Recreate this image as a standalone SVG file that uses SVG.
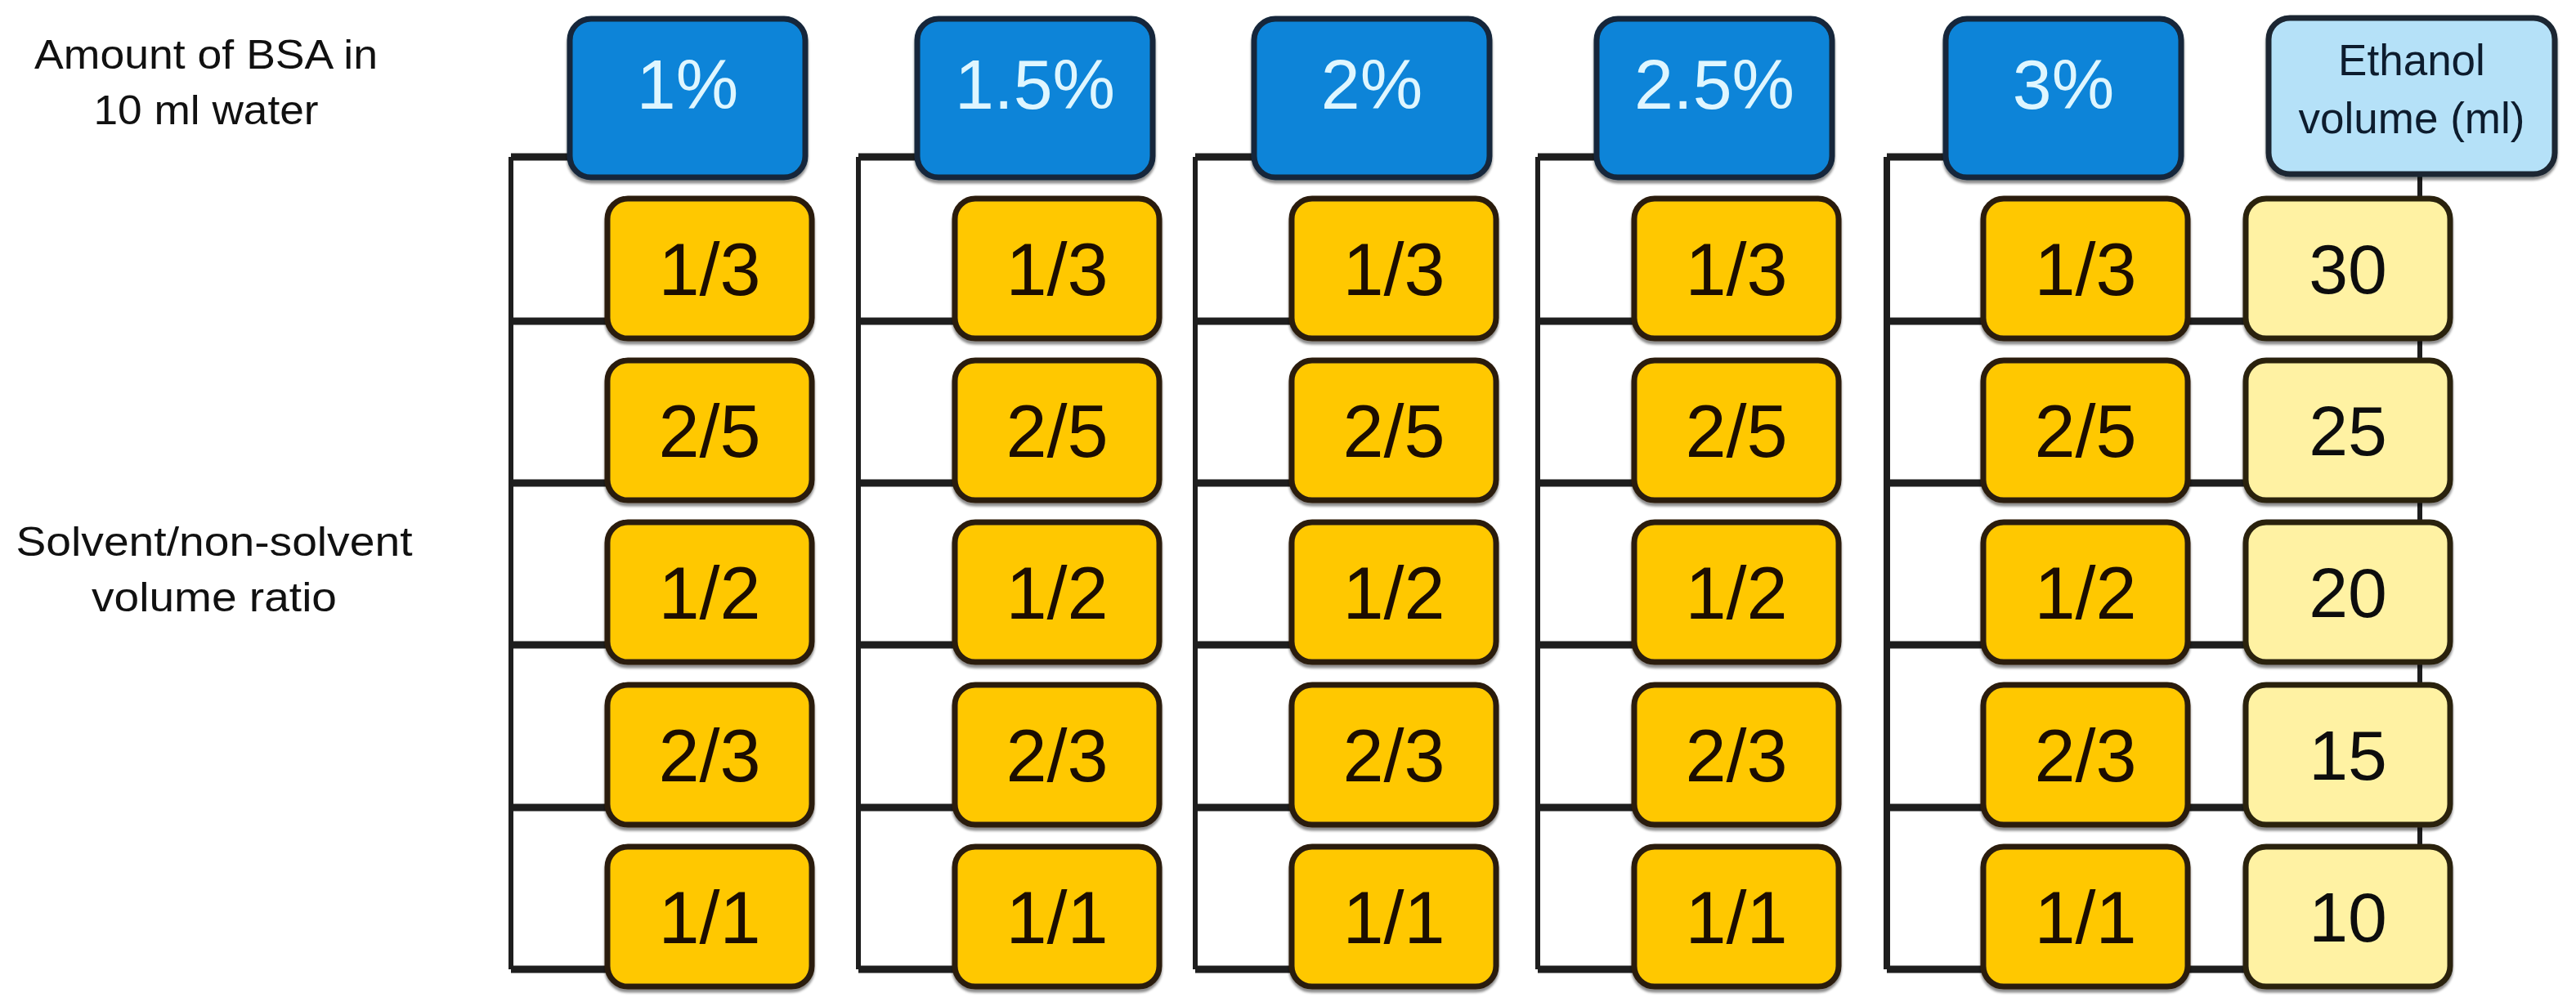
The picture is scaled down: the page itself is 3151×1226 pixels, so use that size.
<svg xmlns="http://www.w3.org/2000/svg" width="3151" height="1226" viewBox="0 0 3151 1226">
<defs>
<filter id="sh" x="-10%" y="-10%" width="120%" height="125%"><feDropShadow dx="0" dy="4" stdDeviation="1.5" flood-color="#000" flood-opacity="0.45"/></filter>
</defs>
<style>
text{font-family:"Liberation Sans",Arial,sans-serif;text-anchor:middle}
.lbl{font-size:50px;fill:#111}
.b rect{fill:#0884d8;stroke:#14283a;stroke-width:7}
.b text{font-size:86px;fill:#dff6ff}
.o rect{fill:#ffc805;stroke:#2b1c0c;stroke-width:7}
.o text{font-size:90px;fill:#1a0f05}
.y rect{fill:#fff2a3;stroke:#2a2410;stroke-width:7}
.y text{font-size:86px;fill:#111}
.e rect{fill:#b5e1f8;stroke:#1b2833;stroke-width:7}
.e text{font-size:53px;fill:#0f1f2e}
.node{filter:url(#sh)}
.v{stroke:#1e1e1e;stroke-width:6;fill:none}
.v5{stroke:#1e1e1e;stroke-width:8;fill:none}
.h{stroke:#1e1e1e;stroke-width:9;fill:none}
</style>
<rect width="3151" height="1226" fill="#fff"/>
<g id="labels">
<text class="lbl" x="252" y="84" textLength="420" lengthAdjust="spacingAndGlyphs">Amount of BSA in</text>
<text class="lbl" x="252" y="152" textLength="275" lengthAdjust="spacingAndGlyphs">10 ml water</text>
<text class="lbl" x="262" y="680" textLength="485" lengthAdjust="spacingAndGlyphs">Solvent/non-solvent</text>
<text class="lbl" x="262" y="748" textLength="300" lengthAdjust="spacingAndGlyphs">volume ratio</text>
</g>
<g id="connectors">
<path class="v" d="M625 192V1186M1050 192V1186M1462 192V1186M1881 192V1186"/>
<path class="v5" d="M2308 192V1186"/>
<path class="h" d="M625 192H697M625 393H743M625 591H743M625 789H743M625 988H743M625 1186H743"/>
<path class="h" d="M1050 192H1122M1050 393H1168M1050 591H1168M1050 789H1168M1050 988H1168M1050 1186H1168"/>
<path class="h" d="M1462 192H1534M1462 393H1580M1462 591H1580M1462 789H1580M1462 988H1580M1462 1186H1580"/>
<path class="h" d="M1881 192H1953M1881 393H1999M1881 591H1999M1881 789H1999M1881 988H1999M1881 1186H1999"/>
<path class="h" d="M2308 192H2380M2308 393H2747M2308 591H2747M2308 789H2747M2308 988H2747M2308 1186H2747"/>
<path class="v" d="M2960 213V243M2960 414V441M2960 612V639M2960 810V838M2960 1009V1036"/>
</g>
<g id="bsa-1" class="node b"><rect x="697" y="23" width="288" height="194" rx="26"/><text x="841" y="133">1%</text></g>
<g id="bsa-1-5" class="node b"><rect x="1122" y="23" width="288" height="194" rx="26"/><text x="1266" y="133">1.5%</text></g>
<g id="bsa-2" class="node b"><rect x="1534" y="23" width="288" height="194" rx="26"/><text x="1678" y="133">2%</text></g>
<g id="bsa-2-5" class="node b"><rect x="1953" y="23" width="288" height="194" rx="26"/><text x="2097" y="133">2.5%</text></g>
<g id="bsa-3" class="node b"><rect x="2380" y="23" width="288" height="194" rx="26"/><text x="2524" y="133">3%</text></g>
<g id="ethanol" class="node e"><rect x="2775" y="22" width="350" height="191" rx="26"/><text x="2950" y="92">Ethanol</text><text x="2950" y="163">volume (ml)</text></g>

<g id="c1-r1" class="node o"><rect x="743" y="243" width="250" height="171" rx="25"/><text x="868" y="361">1/3</text></g>
<g id="c1-r2" class="node o"><rect x="743" y="441" width="250" height="171" rx="25"/><text x="868" y="559">2/5</text></g>
<g id="c1-r3" class="node o"><rect x="743" y="639" width="250" height="171" rx="25"/><text x="868" y="757">1/2</text></g>
<g id="c1-r4" class="node o"><rect x="743" y="838" width="250" height="171" rx="25"/><text x="868" y="956">2/3</text></g>
<g id="c1-r5" class="node o"><rect x="743" y="1036" width="250" height="171" rx="25"/><text x="868" y="1154">1/1</text></g>

<g id="c2-r1" class="node o"><rect x="1168" y="243" width="250" height="171" rx="25"/><text x="1293" y="361">1/3</text></g>
<g id="c2-r2" class="node o"><rect x="1168" y="441" width="250" height="171" rx="25"/><text x="1293" y="559">2/5</text></g>
<g id="c2-r3" class="node o"><rect x="1168" y="639" width="250" height="171" rx="25"/><text x="1293" y="757">1/2</text></g>
<g id="c2-r4" class="node o"><rect x="1168" y="838" width="250" height="171" rx="25"/><text x="1293" y="956">2/3</text></g>
<g id="c2-r5" class="node o"><rect x="1168" y="1036" width="250" height="171" rx="25"/><text x="1293" y="1154">1/1</text></g>

<g id="c3-r1" class="node o"><rect x="1580" y="243" width="250" height="171" rx="25"/><text x="1705" y="361">1/3</text></g>
<g id="c3-r2" class="node o"><rect x="1580" y="441" width="250" height="171" rx="25"/><text x="1705" y="559">2/5</text></g>
<g id="c3-r3" class="node o"><rect x="1580" y="639" width="250" height="171" rx="25"/><text x="1705" y="757">1/2</text></g>
<g id="c3-r4" class="node o"><rect x="1580" y="838" width="250" height="171" rx="25"/><text x="1705" y="956">2/3</text></g>
<g id="c3-r5" class="node o"><rect x="1580" y="1036" width="250" height="171" rx="25"/><text x="1705" y="1154">1/1</text></g>

<g id="c4-r1" class="node o"><rect x="1999" y="243" width="250" height="171" rx="25"/><text x="2124" y="361">1/3</text></g>
<g id="c4-r2" class="node o"><rect x="1999" y="441" width="250" height="171" rx="25"/><text x="2124" y="559">2/5</text></g>
<g id="c4-r3" class="node o"><rect x="1999" y="639" width="250" height="171" rx="25"/><text x="2124" y="757">1/2</text></g>
<g id="c4-r4" class="node o"><rect x="1999" y="838" width="250" height="171" rx="25"/><text x="2124" y="956">2/3</text></g>
<g id="c4-r5" class="node o"><rect x="1999" y="1036" width="250" height="171" rx="25"/><text x="2124" y="1154">1/1</text></g>

<g id="c5-r1" class="node o"><rect x="2426" y="243" width="250" height="171" rx="25"/><text x="2551" y="361">1/3</text></g>
<g id="c5-r2" class="node o"><rect x="2426" y="441" width="250" height="171" rx="25"/><text x="2551" y="559">2/5</text></g>
<g id="c5-r3" class="node o"><rect x="2426" y="639" width="250" height="171" rx="25"/><text x="2551" y="757">1/2</text></g>
<g id="c5-r4" class="node o"><rect x="2426" y="838" width="250" height="171" rx="25"/><text x="2551" y="956">2/3</text></g>
<g id="c5-r5" class="node o"><rect x="2426" y="1036" width="250" height="171" rx="25"/><text x="2551" y="1154">1/1</text></g>

<g id="eth-30" class="node y"><rect x="2747" y="243" width="250" height="171" rx="25"/><text x="2872" y="359">30</text></g>
<g id="eth-25" class="node y"><rect x="2747" y="441" width="250" height="171" rx="25"/><text x="2872" y="557">25</text></g>
<g id="eth-20" class="node y"><rect x="2747" y="639" width="250" height="171" rx="25"/><text x="2872" y="755">20</text></g>
<g id="eth-15" class="node y"><rect x="2747" y="838" width="250" height="171" rx="25"/><text x="2872" y="954">15</text></g>
<g id="eth-10" class="node y"><rect x="2747" y="1036" width="250" height="171" rx="25"/><text x="2872" y="1152">10</text></g>
</svg>
